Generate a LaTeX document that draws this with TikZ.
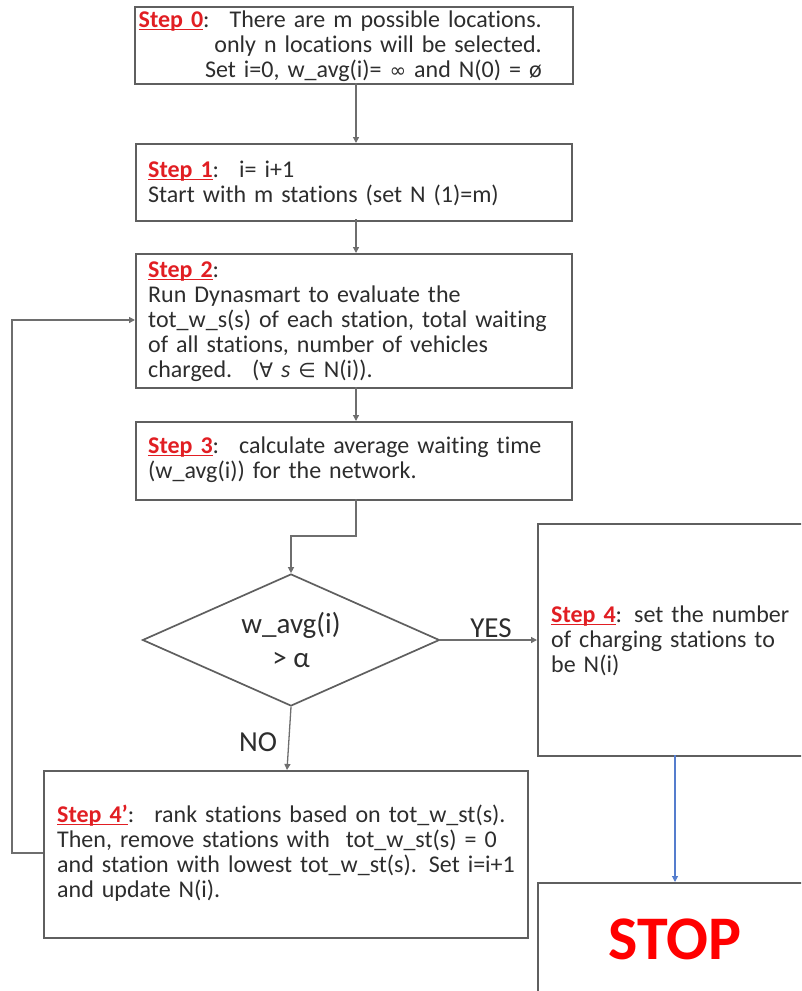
\documentclass[tikz,border=0pt]{standalone}
\usepackage{fontspec}
\setmainfont{Carlito}[Ligatures=NoCommon]
\newfontfamily\symfont{DejaVu Sans}
\usetikzlibrary{arrows.meta,shapes.geometric}
\definecolor{boxline}{RGB}{95,95,95}
\definecolor{connline}{RGB}{110,110,110}
\definecolor{txt}{RGB}{45,45,45}
\definecolor{stepred}{RGB}{225,30,35}
\definecolor{bluearrow}{RGB}{85,125,205}
\newcommand{\stp}[1]{\textcolor{stepred}{\setbox0\hbox{\textbf{#1}}\rlap{\rule[-2.6pt]{\wd0}{1.1pt}}\box0}}
\newcommand{\sym}[1]{{\symfont\fontsize{20}{25}\selectfont #1}}
\begin{document}
\begin{tikzpicture}[x=1pt,y=-1pt,
  box/.style={draw=boxline,line width=1.7pt,rectangle,inner sep=0pt,anchor=north west},
  conn/.style={draw=connline,line width=1.3pt,-{Triangle[length=6pt,width=6pt]}},
  txtnode/.style={anchor=base west,inner sep=0pt,text=txt,font=\fontsize{24}{25}\selectfont,align=left},
  lbl/.style={inner sep=0pt,text=txt,font=\fontsize{29}{34}\selectfont}]
\useasboundingbox (0,0) rectangle (801,991);
\clip (0,0) rectangle (801,991);

% boxes
\node[box,minimum width=438pt,minimum height=77pt] (s0) at (134,6) {};
\node[box,minimum width=436pt,minimum height=77pt] (s1) at (135,143) {};
\node[box,minimum width=436pt,minimum height=134pt] (s2) at (135,253) {};
\node[box,minimum width=436pt,minimum height=78pt] (s3) at (135,421) {};
\node[box,minimum width=280pt,minimum height=232pt] (s4) at (537,523) {};
\node[box,minimum width=484pt,minimum height=167pt] (s4p) at (43,770) {};
\node[box,minimum width=280pt,minimum height=130pt] (stop) at (537,882) {};
\node[draw=boxline,line width=1.7pt,diamond,aspect=2.25,inner sep=0pt,
      minimum width=297pt,minimum height=132pt,
      text=txt,font=\fontsize{29}{34}\selectfont,align=center] (d) at (291,640)
      {w\_avg(i)\\[0pt]> α};

% texts
\node[txtnode,anchor=base east,align=right,text width=420pt] (t0) at (542,27)
  {\stp{Step 0}:~ There are m possible locations.\\only n locations will be selected.\\Set i=0, w\_avg(i)= \sym{∞} and N(0) = ø};
\node[txtnode,text width=420pt] (t1) at (148,177)
  {\stp{Step 1}:~ i= i+1\\Start with m stations (set N (1)=m)};
\node[txtnode,text width=420pt] (t2) at (148,277)
  {\stp{Step 2}:\\Run Dynasmart to evaluate the\\tot\_w\_s(s) of each station, total waiting\\of all stations, number of vehicles\\charged.~ (\sym{∀} \textit{s} \sym{∈} N(i)).};
\node[txtnode,text width=420pt] (t3) at (148,453)
  {\stp{Step 3}:~ calculate average waiting time\\(w\_avg(i)) for the network.};
\node[txtnode,text width=240pt] (t4) at (551,622)
  {\stp{Step 4}: set the number\\of charging stations to\\be N(i)};
\node[txtnode,text width=470pt] (t4p) at (57,822)
  {\stp{Step 4’}:~ rank stations based on tot\_w\_st(s).\\Then, remove stations with~ tot\_w\_st(s) = 0\\and station with lowest tot\_w\_st(s). Set i=i+1\\and update N(i).};
\node[inner sep=0pt,text=red,font=\fontsize{62}{62}\selectfont\bfseries] (stoptxt) at (675,939) {STOP};

\node[lbl] (yes) at (491,628) {YES};
\node[lbl] (no) at (258,742) {NO};

% connectors
\coordinate (c0) at (356,83);
\coordinate (c1) at (356,219);
\coordinate (c2) at (356,387);
\coordinate (c3) at (356,499);
\coordinate (c3b) at (356,536);
\coordinate (c4) at (675,755);
\coordinate (c5) at (12,853);
\coordinate (c6) at (12,320);
\draw[conn] (c0) -- (c0 |- s1.north);
\draw[conn] (c1) -- (c1 |- s2.north);
\draw[conn] (c2) -- (c2 |- s3.north);
\draw[conn] (c3) -- (c3b) -| (d.north);
\draw[conn] (d.east) -- (d.east -| s4.west);
\draw[conn] (d.south) -- (287,770);
\draw[conn] (s4p.west |- c5) -- (c5) -- (c6) -- (c6 -| s2.west);
\draw[draw=bluearrow,line width=1.1pt,-{Triangle[length=6pt,width=6pt]}] (c4) -- (c4 |- stop.north);
\end{tikzpicture}
\end{document}
